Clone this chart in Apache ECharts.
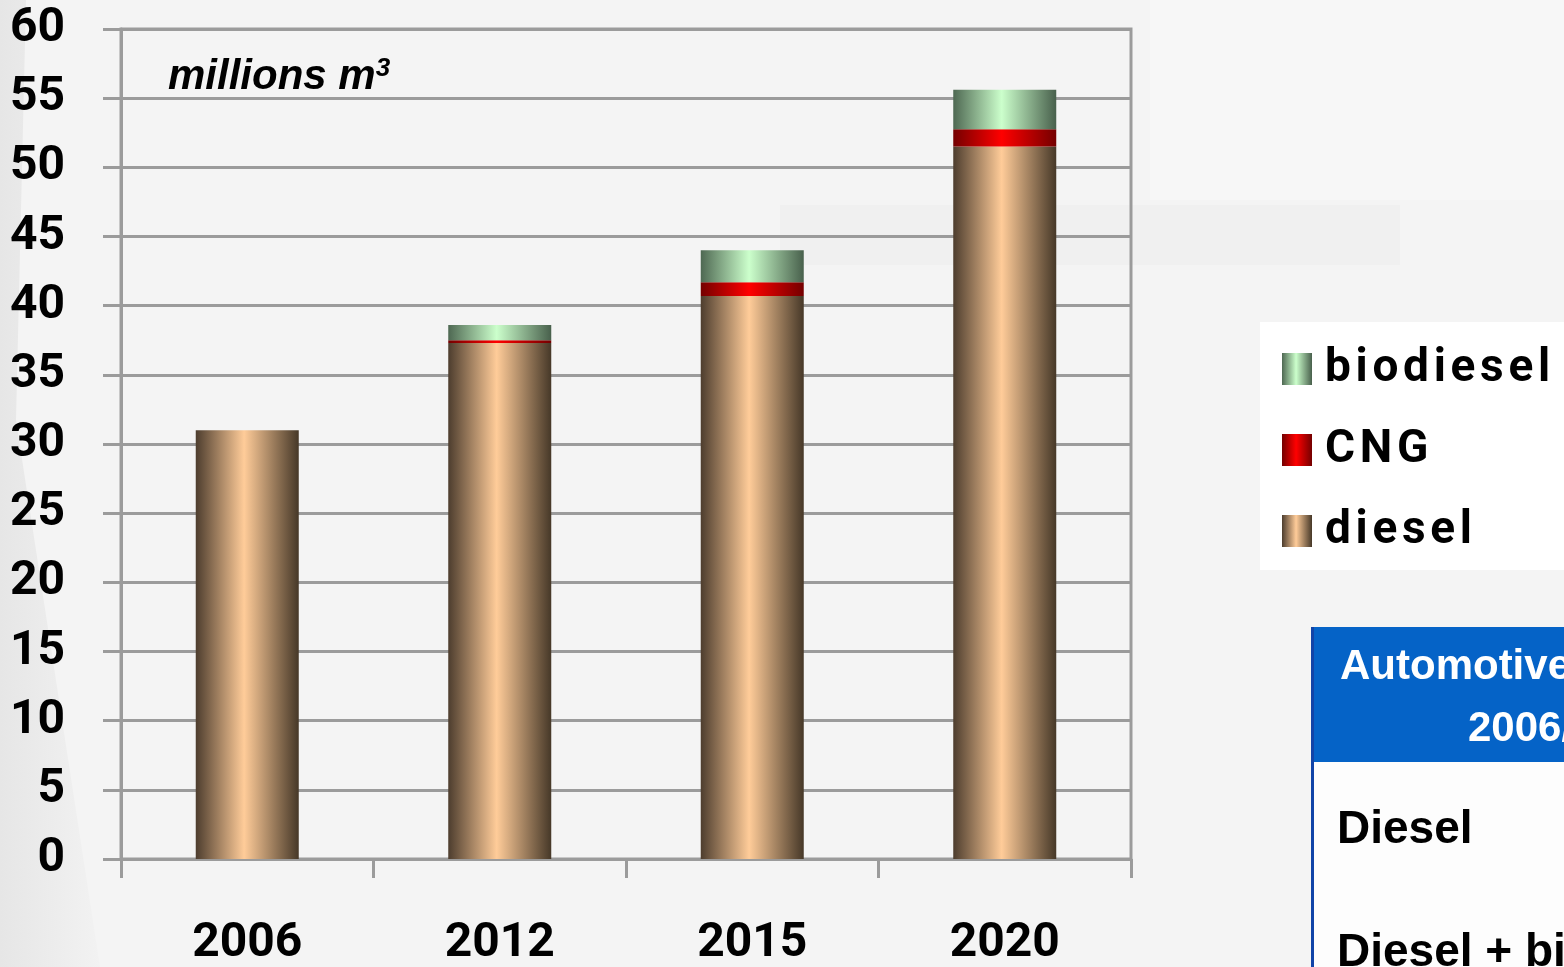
<!DOCTYPE html>
<html>
<head>
<meta charset="utf-8">
<script src="https://cdn.jsdelivr.net/npm/echarts@6/dist/echarts.min.js"></script>
<style>
  html, body { margin: 0; padding: 0; background: #f4f4f4; }
  #chart { width: 1564px; height: 967px; }
</style>
</head>
<body>
<div id="chart"></div>
<script>
// data
const hs = "\u200A"; // hair space, the legend text is letter-spaced in the original
const years = ["2006", "2012", "2015", "2020"];
const diesel = [31.0, 37.3, 40.7, 51.5];
const cng = [0, 0.2, 1.0, 1.25];
const biodiesel = [0, 1.1, 2.3, 2.85];
const yTicks = [0, 5, 10, 15, 20, 25, 30, 35, 40, 45, 50, 55, 60];
const yTickLabels = ["0", "5", "10", "15", "20", "25", "30", "35", "40", "45", "50", "55", "60"];
const seriesNames = ["diesel", "CNG", "biodiesel"].map((s) => s.split("").join(hs));

const labelFont = 'Roboto, "Liberation Sans", sans-serif';
const gridGray = "#9b9b9b";

// horizontal "cylinder" shading
function shade(edgeL, mid, edgeR) {
  return new echarts.graphic.LinearGradient(0, 0, 1, 0, [
    { offset: 0, color: edgeL },
    { offset: 0.47, color: mid },
    { offset: 1, color: edgeR },
  ]);
}

const chart = echarts.init(document.getElementById("chart"));

const options = {
  backgroundColor: "#f4f4f4",
  animation: false,
  graphic: [
    // faint background decorations
    {
      type: "polygon",
      z: -10,
      shape: { points: [[0, 0], [26, 0], [16, 420], [100, 967], [0, 967]] },
      style: {
        fill: new echarts.graphic.LinearGradient(0, 0, 1, 0, [
          { offset: 0, color: "#e6e6e6" },
          { offset: 1, color: "#f2f2f2" },
        ]),
      },
    },
    { type: "rect", z: -10, shape: { x: 780, y: 205, width: 620, height: 60 }, style: { fill: "#f0f0f0" } },
    { type: "rect", z: -10, shape: { x: 1150, y: 0, width: 414, height: 200 }, style: { fill: "#f7f7f7" } },
    // table on the right
    { type: "rect", z: 5, shape: { x: 1311, y: 762, width: 260, height: 210 }, style: { fill: "#fdfdfd" } },
    { type: "rect", z: 5, shape: { x: 1311, y: 627, width: 260, height: 135 }, style: { fill: "#0563c7" } },
    { type: "rect", z: 6, shape: { x: 1311, y: 627, width: 3, height: 345 }, style: { fill: "#1144a8" } },
    {
      type: "text", z: 7, left: 1340, top: 646,
      style: { text: "Automotive", fill: "#fff", font: 'bold 42px "Liberation Sans", Arial, sans-serif' },
    },
    {
      type: "text", z: 7, left: 1468, top: 708,
      style: { text: "2006/2020", fill: "#fff", font: 'bold 42px "Liberation Sans", Arial, sans-serif' },
    },
    {
      type: "text", z: 7, left: 1337, top: 807,
      style: { text: "Diesel", fill: "#000", font: 'bold 46px "Liberation Sans", Arial, sans-serif' },
    },
    {
      type: "text", z: 7, left: 1337, top: 930,
      style: { text: "Diesel + biodiesel", fill: "#000", font: 'bold 46px "Liberation Sans", Arial, sans-serif' },
    },
    // unit label
    {
      type: "text", z: 7, left: 168, top: 56,
      style: {
        rich: {
          a: { font: 'italic bold 42px "Liberation Sans", Arial, sans-serif', fill: "#000" },
          s: { font: 'italic bold 26px "Liberation Sans", Arial, sans-serif', fill: "#000", verticalAlign: "top", padding: [0, 0, 16, 0] },
        },
        text: "{a|millions m}{s|3}",
      },
    },
  ],
  grid: {
    left: 121,
    right: 433,
    top: 29,
    bottom: 108,
    outerBoundsMode: "none",
    containLabel: false,
    show: true,
    borderColor: gridGray,
    borderWidth: 3,
  },
  legend: {
    orient: "vertical",
    left: 1260,
    top: 322,
    backgroundColor: "#ffffff",
    padding: [13, 30, 5, 22],
    itemWidth: 30,
    itemHeight: 32,
    itemGap: 13,
    icon: "rect",
    data: [seriesNames[2], seriesNames[1], seriesNames[0]],
    textStyle: {
      color: "#000",
      fontSize: 46,
      fontWeight: "bold",
      fontFamily: labelFont,
      lineHeight: 50,
      padding: [18, 0, 0, 8],
    },
  },
  xAxis: {
    type: "category",
    data: years,
    axisLine: { lineStyle: { color: gridGray, width: 3 } },
    axisTick: { show: true, length: 19, lineStyle: { color: gridGray, width: 3 } },
    axisLabel: {
      margin: 61,
      color: "#000",
      fontSize: 48,
      fontWeight: "bold",
      fontFamily: labelFont,
    },
  },
  yAxis: {
    type: "value",
    min: 0,
    max: 60,
    interval: 5,
    axisLine: { show: true, lineStyle: { color: gridGray, width: 3 } },
    axisTick: { show: true, length: 18, lineStyle: { color: gridGray, width: 3 } },
    splitLine: { lineStyle: { color: gridGray, width: 3 } },
    axisLabel: {
      margin: 56,
      color: "#000",
      fontSize: 48,
      fontWeight: "bold",
      fontFamily: labelFont,
      padding: [8, 0, 0, 0],
      formatter: (v) => yTickLabels[yTicks.indexOf(v)],
    },
  },
  series: [
    {
      name: seriesNames[0],
      type: "bar",
      stack: "fuel",
      barWidth: 103,
      data: diesel,
      itemStyle: { color: shade("#4d3d2e", "#ffcc99", "#463828") },
    },
    {
      name: seriesNames[1],
      type: "bar",
      stack: "fuel",
      barWidth: 103,
      data: cng,
      itemStyle: { color: shade("#740000", "#ff0000", "#740000") },
    },
    {
      name: seriesNames[2],
      type: "bar",
      stack: "fuel",
      barWidth: 103,
      data: biodiesel,
      itemStyle: { color: shade("#4e6852", "#ccffcc", "#48604c") },
    },
  ],
};

chart.setOption(options);

window.addEventListener("resize", () => {
  chart.resize();
});
</script>
</body>
</html>
